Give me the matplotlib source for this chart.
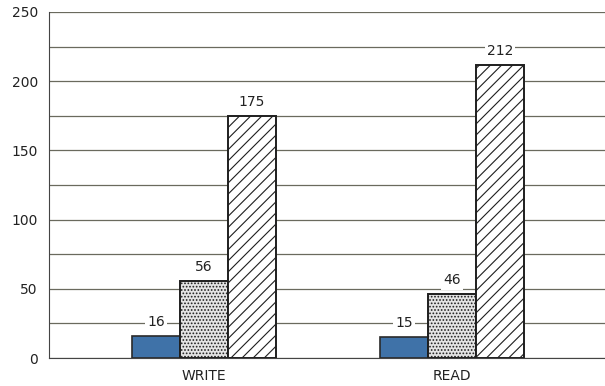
import matplotlib.pyplot as plt
import numpy as np

categories = ["WRITE", "READ"]
series_a = [16, 15]
series_b = [56, 46]
series_c = [175, 212]

plt.rcParams['font.family'] = ['DejaVu Sans']
plt.rcParams['hatch.linewidth'] = 0.8

fig = plt.figure(figsize=(6.05, 3.86), dpi=100)
ax = fig.add_axes([0.081, 0.0725, 0.919, 0.8965])

x = np.arange(len(categories))
w = 0.194

ax.set_ylim(0, 250)
ax.set_xlim(-0.625, 1.617)
ax.set_yticks(range(0, 251, 50))
ax.set_yticks(range(0, 251, 25), minor=True)
ax.grid(axis='y', which='both', color='#6a6a5e', linewidth=0.9)
ax.set_axisbelow(True)

b1 = ax.bar(x - w, series_a, w, color='#3f72a8', edgecolor='#2a2a2a', linewidth=1.2)
b2 = ax.bar(x, series_b, w, color='#e4e4e4', edgecolor='#1e1e1e', linewidth=1.4, hatch='.....')
b3 = ax.bar(x + w, series_c, w, color='white', edgecolor='#1e1e1e', linewidth=1.4, hatch='///')

for bars in (b1, b2, b3):
    for rect in bars:
        h = rect.get_height()
        ax.text(rect.get_x() + rect.get_width() / 2, h + 5, str(int(h)),
                ha='center', va='bottom', fontsize=10, color='#222222',
                bbox=dict(facecolor='white', edgecolor='none', pad=1.5))

ax.set_xticks(x)
ax.set_xticklabels(categories)
ax.tick_params(axis='both', which='both', length=0, labelsize=10, colors='#222222')
ax.tick_params(axis='x', pad=8)
ax.tick_params(axis='y', pad=8)
ax.spines['top'].set_visible(False)
ax.spines['right'].set_visible(False)
ax.spines['left'].set_color('#444444')
ax.spines['bottom'].set_color('#444444')

fig.savefig("out.png", dpi=100)
